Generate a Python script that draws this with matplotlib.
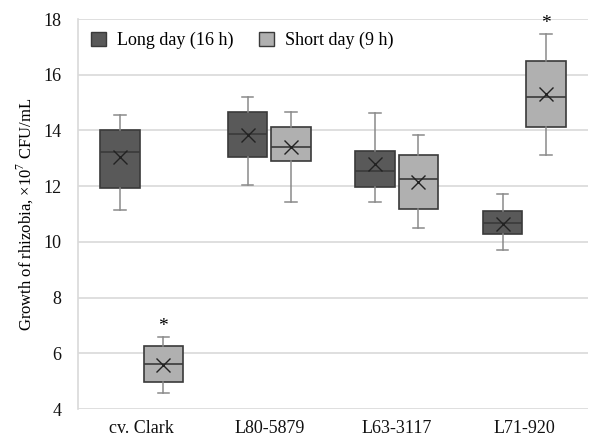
import matplotlib
matplotlib.use('Agg')
import matplotlib.pyplot as plt
from matplotlib.patches import Patch

plt.rcParams['font.family'] = ['Liberation Serif', 'DejaVu Serif']
plt.rcParams['mathtext.fontset'] = 'custom'
plt.rcParams['mathtext.rm'] = 'Liberation Serif'

lines = ['cv. Clark', 'L80-5879', 'L63-3117', 'L71-920']
series = ['Long day (16 h)', 'Short day (9 h)']

# box statistics, per line
long_whislo = [11.16, 12.04, 11.43, 9.71]
long_q1 = [11.95, 13.04, 11.98, 10.29]
long_med = [13.24, 13.87, 12.53, 10.67]
long_q3 = [14.0, 14.67, 13.27, 11.11]
long_whishi = [14.55, 15.21, 14.61, 11.72]
long_mean = [13.06, 13.84, 12.78, 10.63]

short_whislo = [4.56, 11.43, 10.51, 13.12]
short_q1 = [4.97, 12.89, 11.17, 14.12]
short_med = [5.6, 13.42, 12.25, 15.21]
short_q3 = [6.26, 14.12, 13.12, 16.5]
short_whishi = [6.59, 14.67, 13.82, 17.46]
short_mean = [5.58, 13.4, 12.16, 15.3]

# significance markers (line index, series index)
stars = [(0, 1), (3, 1)]

colors = ['#595959', '#b0b0b0']


def make_stats(lo, q1, med, q3, hi, mean):
    return [dict(whislo=a, q1=b, med=c, q3=d, whishi=e, mean=f, fliers=[])
            for a, b, c, d, e, f in zip(lo, q1, med, q3, hi, mean)]


stats = [make_stats(long_whislo, long_q1, long_med, long_q3, long_whishi, long_mean),
         make_stats(short_whislo, short_q1, short_med, short_q3, short_whishi, short_mean)]

fig = plt.figure(figsize=(5.89, 4.37), dpi=100)
ax = fig.add_axes([0.1324, 0.064, 0.866, 0.8925])

offsets = [-0.17, 0.17]
for s in range(2):
    pos = [i + offsets[s] for i in range(len(lines))]
    ax.bxp(stats[s], positions=pos, widths=0.31, patch_artist=True, showmeans=True,
           boxprops=dict(facecolor=colors[s], edgecolor='#3a3a3a', linewidth=1.2),
           medianprops=dict(color='#3a3a3a', linewidth=1.2),
           whiskerprops=dict(color='#8a8a8a', linewidth=1.1),
           capprops=dict(color='#8a8a8a', linewidth=1.1),
           capwidths=0.09,
           meanprops=dict(marker='x', markeredgecolor='#222222', markersize=10,
                          markeredgewidth=1.0),
           manage_ticks=False, zorder=3)

for i, s in stars:
    hi = (long_whishi, short_whishi)[s][i]
    ax.text(i + offsets[s], hi + 0.38, '*', ha='center', va='center', fontsize=14,
            clip_on=False)

ax.set_xlim(-0.5, 3.5)
ax.set_ylim(4, 18)
ax.set_yticks(range(4, 19, 2))
ax.set_xticks(range(len(lines)))
ax.set_xticklabels(lines)
ax.tick_params(axis='both', length=0, labelsize=13, colors='#111111')
ax.tick_params(axis='x', pad=8)
ax.tick_params(axis='y', pad=12)
ax.grid(axis='y', color='#d9d9d9', linewidth=1.2, zorder=0)
ax.set_axisbelow(True)
for side in ['top', 'right', 'bottom']:
    ax.spines[side].set_visible(False)
ax.spines['left'].set_color('#d9d9d9')
ax.spines['left'].set_linewidth(1.2)

ax.set_ylabel(r'Growth of rhizobia, ×10$^7$ CFU/mL', fontsize=12, labelpad=5)

handles = [Patch(facecolor=colors[k], edgecolor='#3a3a3a', linewidth=1.0) for k in range(2)]
ax.legend(handles, series, loc='upper left', ncol=2, frameon=False, fontsize=13,
          bbox_to_anchor=(0.0, 1.0), handlelength=0.85, handleheight=0.85,
          handletextpad=0.6, columnspacing=1.4, borderaxespad=0.3)

fig.savefig('out.png', dpi=100)
